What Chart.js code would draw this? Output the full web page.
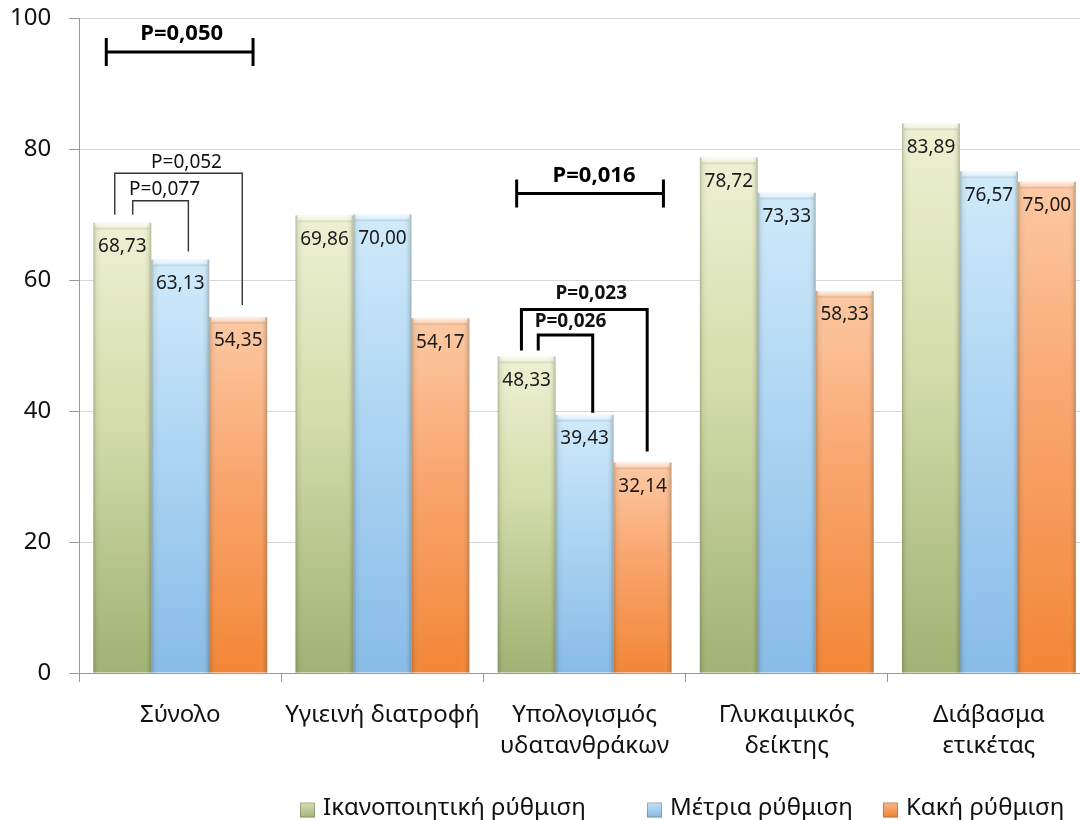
<!DOCTYPE html>
<html lang="el">
<head>
<meta charset="utf-8">
<script src="https://cdn.jsdelivr.net/npm/chart.js@4.4.1/dist/chart.umd.min.js"></script>
<style>
  html, body { margin: 0; padding: 0; background: #ffffff; overflow: hidden; }
  #wrap { width: 1090px; height: 820px; }
</style>
</head>
<body>
<div id="wrap"><canvas id="chart" width="1090" height="820"></canvas></div>
<script>
// ---- data ----
const categories = [
  ['Σύνολο'],
  ['Υγιεινή διατροφή'],
  ['Υπολογισμός', 'υδατανθράκων'],
  ['Γλυκαιμικός', 'δείκτης'],
  ['Διάβασμα', 'ετικέτας']
];
const seriesNames = ['Ικανοποιητική ρύθμιση', 'Μέτρια ρύθμιση', 'Κακή ρύθμιση'];
const goodControl     = [68.73, 69.86, 48.33, 78.72, 83.89];
const moderateControl = [63.13, 70.00, 39.43, 73.33, 76.57];
const poorControl     = [54.35, 54.17, 32.14, 58.33, 75.00];
const yTickValues = [0, 20, 40, 60, 80, 100];

// pairwise comparisons inside a category (bar a vs bar b)
const pairTests = [
  { cat: 0, a: 0, b: 2, text: 'P=0,052' },
  { cat: 0, a: 0, b: 1, text: 'P=0,077' },
  { cat: 2, a: 0, b: 2, text: 'P=0,023' },
  { cat: 2, a: 0, b: 1, text: 'P=0,026' }
];
// comparisons across the three groups of a category
const groupTests = [
  { cat: 0, text: 'P=0,050' },
  { cat: 2, text: 'P=0,016' }
];

// ---- styling ----
const FONT = '"Noto Sans", "DejaVu Sans", sans-serif';
const palette = [
  { top: '#eef1d3', mid: '#d3dcaa', bottom: '#a0b273', legendTop: '#d9e0b4', legendBottom: '#a3b377' },
  { top: '#d0ebfb', mid: '#aed5f3', bottom: '#88bce8', legendTop: '#c4e2f7', legendBottom: '#86b9e3' },
  { top: '#fdc9a4', mid: '#f9a66f', bottom: '#f38636', legendTop: '#fab888', legendBottom: '#ee8233' }
];
// bracket geometry: level in score units, x offsets as a share of the bar width,
// end gaps / label lift in pixels
const pairLayout = [
  { level: 76.3, offA: -0.13, offB: 0.07, gapA: 8, gapB: 12, dx: 8, dy: 11, bold: false },
  { level: 72.1, offA: 0.18,  offB: 0.14, gapA: 8, gapB: 8,  dx: 4, dy: 11, bold: false },
  { level: 55.5, offA: -0.09, offB: 0.08, gapA: 6, gapB: 11, dx: 7, dy: 16, bold: true },
  { level: 51.6, offA: 0.20,  offB: 0.14, gapA: 6, gapB: 2,  dx: 5, dy: 13, bold: true }
];
// group brackets: x range as a share of the category width around its centre
const groupLayout = [
  { level: 94.8, from: -0.366, to: 0.36, dx: 2, dy: 18, cap: 14 },
  { level: 73.2, from: -0.336, to: 0.39, dx: 4, dy: 18, cap: 14 }
];
// legend entries (left edge of each swatch) and row centre
const legendLayout = { x: [300, 647, 883], y: 810, box: 15, textGap: 8, fontSize: 24 };

const fmt = v => v.toFixed(2).replace('.', ',');

function barFill(p) {
  return (ctx) => {
    const chart = ctx.chart;
    if (!chart.chartArea || ctx.type !== 'data') return p.bottom;
    const ys = chart.scales.y;
    const top = ys.getPixelForValue(ctx.raw);
    const base = ys.getPixelForValue(0);
    const g = chart.ctx.createLinearGradient(0, top, 0, base);
    g.addColorStop(0, p.top);
    g.addColorStop(0.45, p.mid);
    g.addColorStop(1, p.bottom);
    return g;
  };
}

// bevel shading, value labels, significance brackets and the legend row
const decorations = {
  id: 'decorations',
  afterDatasetsDraw(chart) {
    const ctx = chart.ctx;
    const ys = chart.scales.y, xs = chart.scales.x;
    const barOf = (di, cat) => chart.getDatasetMeta(di).data[cat].getProps(['x', 'y', 'base', 'width'], true);

    chart.data.datasets.forEach((ds, di) => {
      chart.getDatasetMeta(di).data.forEach((bar, i) => {
        const { x, y, base, width } = bar.getProps(['x', 'y', 'base', 'width'], true);
        const l = x - width / 2;
        ctx.save();
        const gh = ctx.createLinearGradient(l, 0, l + width, 0);
        gh.addColorStop(0, 'rgba(70,70,50,0.30)');
        gh.addColorStop(0.05, 'rgba(70,70,50,0.08)');
        gh.addColorStop(0.18, 'rgba(255,255,255,0)');
        gh.addColorStop(0.86, 'rgba(255,255,255,0)');
        gh.addColorStop(0.95, 'rgba(70,70,50,0.10)');
        gh.addColorStop(1, 'rgba(70,70,50,0.32)');
        ctx.fillStyle = gh;
        ctx.fillRect(l, y, width, base - y);
        const gv = ctx.createLinearGradient(0, y, 0, y + 7);
        gv.addColorStop(0, 'rgba(255,255,255,0.75)');
        gv.addColorStop(0.6, 'rgba(255,255,255,0.25)');
        gv.addColorStop(1, 'rgba(0,0,0,0.05)');
        ctx.fillStyle = gv;
        ctx.fillRect(l + 2, y, width - 4, 7);
        ctx.fillStyle = '#1a1a1a';
        ctx.font = '19px ' + FONT;
        ctx.textAlign = 'center';
        ctx.textBaseline = 'middle';
        ctx.fillText(fmt(ds.data[i]), x, y + 24);
        ctx.restore();
      });
    });

    // pairwise brackets
    pairTests.forEach((t, k) => {
      const L = pairLayout[k];
      const A = barOf(t.a, t.cat), B = barOf(t.b, t.cat);
      const xa = A.x + L.offA * A.width, xb = B.x + L.offB * B.width;
      const yTop = ys.getPixelForValue(L.level);
      ctx.save();
      ctx.strokeStyle = L.bold ? '#000000' : '#333333';
      ctx.lineWidth = L.bold ? 3 : 1.4;
      ctx.lineJoin = 'miter';
      ctx.beginPath();
      ctx.moveTo(xa, A.y - L.gapA);
      ctx.lineTo(xa, yTop);
      ctx.lineTo(xb, yTop);
      ctx.lineTo(xb, B.y - L.gapB);
      ctx.stroke();
      ctx.fillStyle = '#111111';
      ctx.font = (L.bold ? 'bold 19px ' : '19px ') + FONT;
      ctx.textAlign = 'center';
      ctx.textBaseline = 'middle';
      ctx.fillText(t.text, (xa + xb) / 2 + L.dx, yTop - L.dy);
      ctx.restore();
    });

    // group brackets
    const catW = xs.width / categories.length;
    groupTests.forEach((t, k) => {
      const L = groupLayout[k];
      const cx = xs.getPixelForValue(t.cat);
      const x1 = cx + L.from * catW, x2 = cx + L.to * catW;
      const yy = ys.getPixelForValue(L.level);
      ctx.save();
      ctx.strokeStyle = '#000000';
      ctx.lineWidth = 3;
      ctx.beginPath();
      ctx.moveTo(x1, yy); ctx.lineTo(x2, yy);
      ctx.moveTo(x1, yy - L.cap); ctx.lineTo(x1, yy + L.cap);
      ctx.moveTo(x2, yy - L.cap); ctx.lineTo(x2, yy + L.cap);
      ctx.stroke();
      ctx.fillStyle = '#000000';
      ctx.font = 'bold 22px ' + FONT;
      ctx.textAlign = 'center';
      ctx.textBaseline = 'middle';
      ctx.fillText(t.text, (x1 + x2) / 2 + L.dx, yy - L.dy);
      ctx.restore();
    });

    // legend row
    const LG = legendLayout;
    chart.data.datasets.forEach((ds, di) => {
      const p = palette[di];
      const bx = LG.x[di], by = LG.y - LG.box / 2;
      ctx.save();
      const g = ctx.createLinearGradient(0, by, 0, by + LG.box);
      g.addColorStop(0, p.legendTop);
      g.addColorStop(1, p.legendBottom);
      ctx.fillStyle = g;
      ctx.fillRect(bx, by, LG.box, LG.box);
      ctx.strokeStyle = 'rgba(80,80,60,0.35)';
      ctx.lineWidth = 1;
      ctx.strokeRect(bx + 0.5, by + 0.5, LG.box - 1, LG.box - 1);
      ctx.fillStyle = '#111111';
      ctx.font = LG.fontSize + 'px ' + FONT;
      ctx.textAlign = 'left';
      ctx.textBaseline = 'middle';
      ctx.fillText(ds.label, bx + LG.box + LG.textGap, LG.y - 2);
      ctx.restore();
    });
  }
};

Chart.defaults.font.family = FONT;
Chart.defaults.color = '#111111';

const seriesValues = [goodControl, moderateControl, poorControl];

new Chart(document.getElementById('chart'), {
  type: 'bar',
  data: {
    labels: categories,
    datasets: seriesValues.map((vals, i) => ({
      label: seriesNames[i],
      data: vals,
      backgroundColor: barFill(palette[i]),
      borderWidth: 0,
      categoryPercentage: 0.86,
      barPercentage: 1.0
    }))
  },
  options: {
    responsive: false,
    devicePixelRatio: 1,
    animation: false,
    layout: { padding: { left: -8, top: 18, right: 0, bottom: 40 } },
    plugins: {
      tooltip: { enabled: false },
      legend: { display: false }
    },
    scales: {
      x: {
        grid: { display: true, drawOnChartArea: false, tickLength: 9, color: '#9a9a9a', offset: true },
        border: { display: true, color: '#9a9a9a', width: 1 },
        ticks: { font: { size: 24, lineHeight: 1.29 }, color: '#111111', padding: 18, maxRotation: 0, autoSkip: false }
      },
      y: {
        min: 0,
        max: 100,
        afterBuildTicks: axis => { axis.ticks = yTickValues.map(v => ({ value: v })); },
        afterFit: axis => { axis.paddingTop = 0; },
        grid: { color: '#d6d6d6', tickColor: '#9a9a9a', tickLength: 10, lineWidth: 1 },
        border: { display: true, color: '#9a9a9a', width: 1 },
        ticks: { font: { size: 24, lineHeight: 0.6 }, color: '#111111', padding: 18 }
      }
    }
  },
  plugins: [decorations]
});
</script>
</body>
</html>
